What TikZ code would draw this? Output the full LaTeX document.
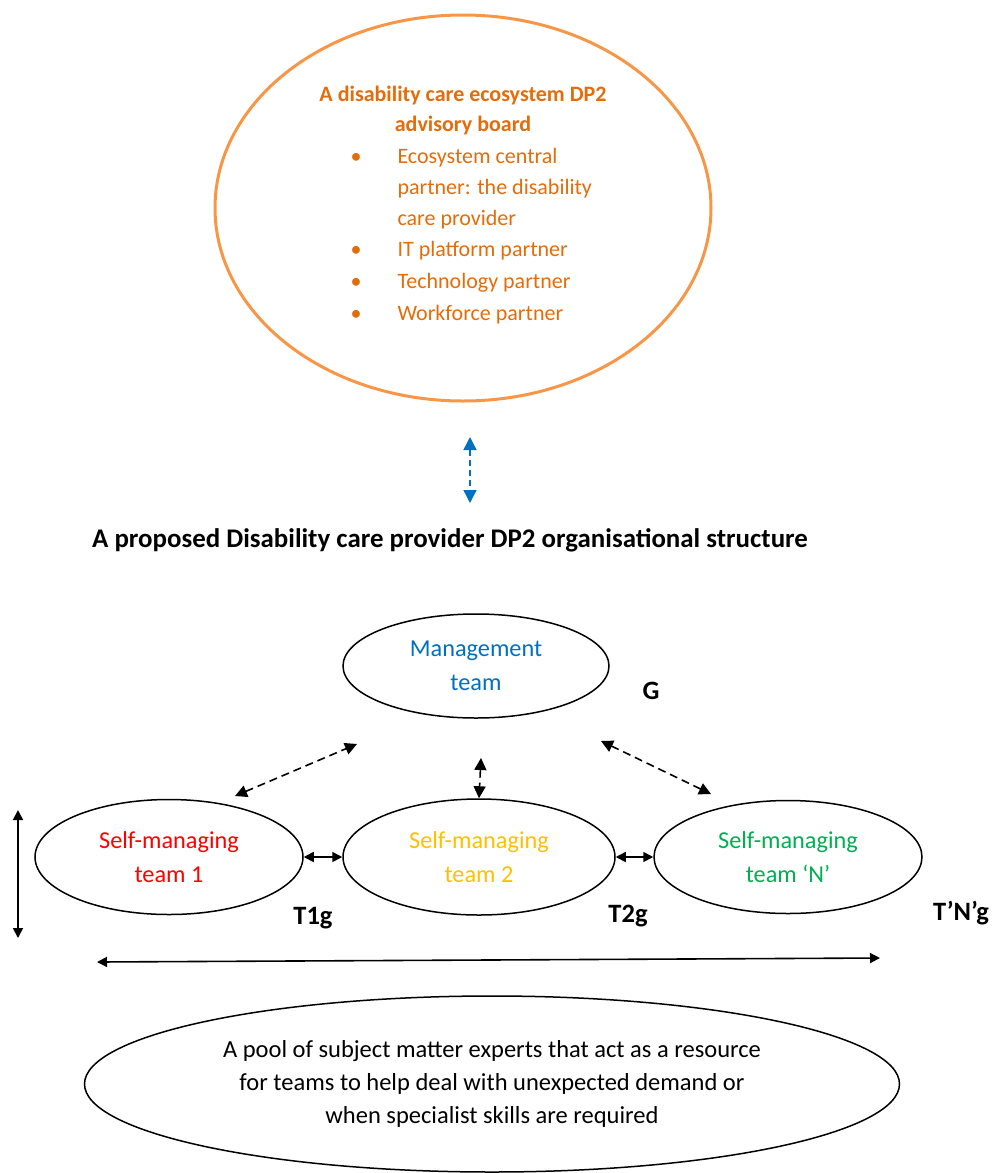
\documentclass[tikz,border=0pt]{standalone}
\usepackage{fontspec}
\setmainfont{Carlito}
\usetikzlibrary{shapes.geometric, arrows.meta, positioning}

\definecolor{boardline}{RGB}{247,150,70}
\definecolor{boardtext}{RGB}{228,108,10}
\definecolor{mgmtblue}{RGB}{0,112,192}
\definecolor{teamred}{RGB}{255,0,0}
\definecolor{teamyellow}{RGB}{255,192,0}
\definecolor{teamgreen}{RGB}{0,176,80}

\tikzset{
  oval/.style={ellipse, draw, line width=1.5pt, inner sep=0pt, align=center,
    font=\fontsize{24.3}{34}\selectfont},
  link/.style={line width=1.6pt, {Triangle[length=10pt,width=10pt]}-{Triangle[length=10pt,width=10pt]}},
  dashlink/.style={link, dash pattern=on 8pt off 5pt, {Triangle[length=12pt,width=12pt]}-{Triangle[length=12pt,width=12pt]}},
  tag/.style={font=\fontsize{26.5}{28}\selectfont\bfseries},
  boarditem/.style={anchor=west, text=boardtext, font=\fontsize{22}{24}\selectfont},
}

\begin{document}
\begin{tikzpicture}[x=1pt, y=-1pt]
  \useasboundingbox (0,0) rectangle (992,1173);

  % advisory board
  \node[ellipse, draw=boardline, line width=3pt, minimum width=496pt, minimum height=386pt] (board) at (463,208) {};
  \node[text=boardtext, align=center, font=\fontsize{22}{30}\selectfont\bfseries] (boardtitle) at (463,111)
    {A disability care ecosystem DP2\\advisory board};
  \foreach \y/\txt in {158/Ecosystem central, 189/partner: the disability, 220/care provider,
                       251/IT platform partner, 283/Technology partner, 315/Workforce partner}
    \node[boarditem] (item-\y) at (394,\y) {\txt};
  \foreach \y in {158,251,283,315}
    \node[text=boardtext, font=\fontsize{22}{24}\selectfont] (bullet-\y) at (356,\y) {\textbullet};

  \coordinate (advise top) at (470,437);
  \coordinate (advise bot) at (470,503);
  \draw[link, mgmtblue, line width=1.4pt, dash pattern=on 6pt off 4pt,
        {Triangle[length=13pt,width=13pt]}-{Triangle[length=13pt,width=13pt]}] (advise top) -- (advise bot);

  \node[font=\fontsize{26.9}{28}\selectfont\bfseries] (title) at (450,540)
    {A proposed Disability care provider DP2 organisational structure};

  % organisational structure
  \node[oval, minimum width=266pt, minimum height=104pt, text=mgmtblue] (mgmt) at (476,666) {Management\\team};
  \node[tag] (g) at (651,691) {G};

  \node[oval, minimum width=268pt, minimum height=115pt, text=teamred] (team1) at (169,857) {Self-managing\\team 1};
  \node[oval, minimum width=272pt, minimum height=116pt, text=teamyellow] (team2) at (479,857) {Self-managing\\team 2};
  \node[oval, minimum width=268pt, minimum height=113pt, text=teamgreen] (teamN) at (788,857) {Self-managing\\team ‘N’};

  \node[tag] (t1g) at (313,918) {T1g};
  \node[tag] (t2g) at (628,916) {T2g};
  \node[tag] (tng) at (961,913) {T’N’g};

  \draw[link] (team1.east) -- (team2.west);
  \draw[link] (team2.east) -- (teamN.west);

  \coordinate (left lo) at (235,796);
  \coordinate (left hi) at (357,744);
  \coordinate (right hi) at (601,741);
  \coordinate (right lo) at (711,794);
  \coordinate (mid hi) at (481,758);
  \draw[dashlink] (left lo) -- (left hi);
  \draw[dashlink] (right hi) -- (right lo);
  \draw[dashlink] (mid hi) -- (team2.north);

  \coordinate (span top) at (18,810);
  \coordinate (span bot) at (18,938);
  \draw[link] (span top) -- (span bot);
  \coordinate (span left) at (97,962);
  \coordinate (span right) at (880,958);
  \draw[link] (span left) -- (span right);

  % pool of experts
  \node[oval, minimum width=815pt, minimum height=176pt, font=\fontsize{24.5}{33}\selectfont] (pool) at (492,1084)
    {A pool of subject matter experts that act as a resource\\for teams to help deal with unexpected demand or\\when specialist skills are required};

\end{tikzpicture}
\end{document}
